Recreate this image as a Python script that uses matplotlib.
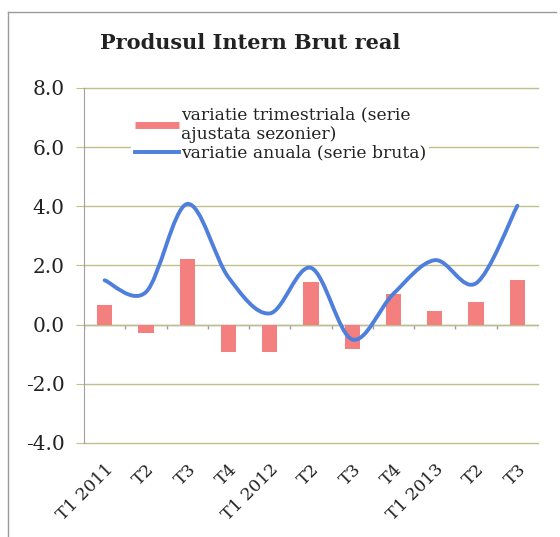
import numpy as np
import matplotlib
matplotlib.use('agg')
import matplotlib.pyplot as plt
from matplotlib.path import Path
from matplotlib.patches import PathPatch
from matplotlib.lines import Line2D

# data
categories = ['T1 2011', 'T2', 'T3', 'T4', 'T1 2012', 'T2', 'T3', 'T4',
              'T1 2013', 'T2', 'T3']
trimestriala = [0.65, -0.28, 2.22, -0.92, -0.92, 1.45, -0.82, 1.05, 0.45, 0.75, 1.5]
anuala = [1.5, 1.1, 4.08, 1.6, 0.38, 1.92, -0.5, 1.05, 2.18, 1.4, 4.02]
yticks = [-4.0, -2.0, 0.0, 2.0, 4.0, 6.0, 8.0]

bar_color = '#f47f7f'
line_color = '#4f7fdc'
grid_color = '#bfbf8c'
text_color = '#222222'

plt.rcParams['font.family'] = ['DejaVu Serif']

fig = plt.figure(figsize=(5.6, 5.37), dpi=100)
ax = fig.add_axes([84/560, 1-443/537, 454/560, 355/537])

x = np.arange(len(categories))

# bars
ax.bar(x, trimestriala, width=0.37, color=bar_color, zorder=2)


def smooth_path(xs, ys):
    # cubic bezier through the points (Excel style smoothed line)
    pts = np.column_stack([xs, ys]).astype(float)
    n = len(pts)
    verts = [pts[0]]
    codes = [Path.MOVETO]
    for i in range(n - 1):
        p0 = pts[i - 1] if i > 0 else pts[i]
        p1 = pts[i]
        p2 = pts[i + 1]
        p3 = pts[i + 2] if i + 2 < n else pts[i + 1]
        c1 = p1 + (p2 - p0) / 6.0
        c2 = p2 - (p3 - p1) / 6.0
        verts += [c1, c2, p2]
        codes += [Path.CURVE4] * 3
    return Path(verts, codes)


ax.add_patch(PathPatch(smooth_path(x, anuala), facecolor='none',
                       edgecolor=line_color, lw=2.8, capstyle='round',
                       zorder=3))

ax.set_xlim(-0.5, len(categories) - 0.5)
ax.set_ylim(-4, 8)

# gridlines + y axis
ax.set_yticks(yticks)
ax.set_yticklabels(['%.1f' % v for v in yticks], fontsize=14.5, color=text_color)
ax.yaxis.grid(True, color=grid_color, lw=1.0, zorder=0)
for gl in ax.get_ygridlines():
    gl.set_clip_on(False)
ax.tick_params(axis='y', length=6, color=grid_color, pad=8)

# zero axis with small tick marks between categories
ax.axhline(0, color='#a0a0a0', lw=1.0, zorder=1)
ax.vlines(np.arange(-0.5, len(categories)), -0.15, 0, color='#a0a0a0', lw=1.0, zorder=1)

ax.set_xticks(x)
ax.set_xticklabels(categories, rotation=45, ha='right', rotation_mode='anchor',
                   fontsize=12.5, color=text_color)
ax.tick_params(axis='x', length=0, pad=13)

for s in ['top', 'right', 'bottom']:
    ax.spines[s].set_visible(False)
ax.spines['left'].set_color('#a0a0a0')

# legend
handles = [Line2D([], [], color=bar_color, lw=5, solid_capstyle='butt'),
           Line2D([], [], color=line_color, lw=2.8)]
labels = ['variatie trimestriala (serie\najustata sezonier)',
          'variatie anuala (serie bruta)']
leg = ax.legend(handles, labels, loc='upper left', bbox_to_anchor=(0.104, 0.958),
                frameon=True, fontsize=12.3, handlelength=2.6, handletextpad=0.1,
                labelspacing=0.1, borderpad=0.2, borderaxespad=0.0)
leg.get_frame().set_edgecolor('none')
leg.get_frame().set_facecolor('white')
leg.get_frame().set_alpha(1.0)
for t in leg.get_texts():
    t.set_color(text_color)

fig.text(0.446, 1-43/537, 'Produsul Intern Brut real', ha='center', va='center',
         fontsize=15, fontweight='bold', color=text_color)

# outer chart frame
fig.add_artist(Line2D([8/560, 8/560], [0, 1-12/537], transform=fig.transFigure,
                      color='#9a9a9a', lw=1.0))
fig.add_artist(Line2D([8/560, 556/560], [1-12/537, 1-12/537], transform=fig.transFigure,
                      color='#9a9a9a', lw=1.0))

fig.savefig('out.png', dpi=100)
plt.close(fig)
